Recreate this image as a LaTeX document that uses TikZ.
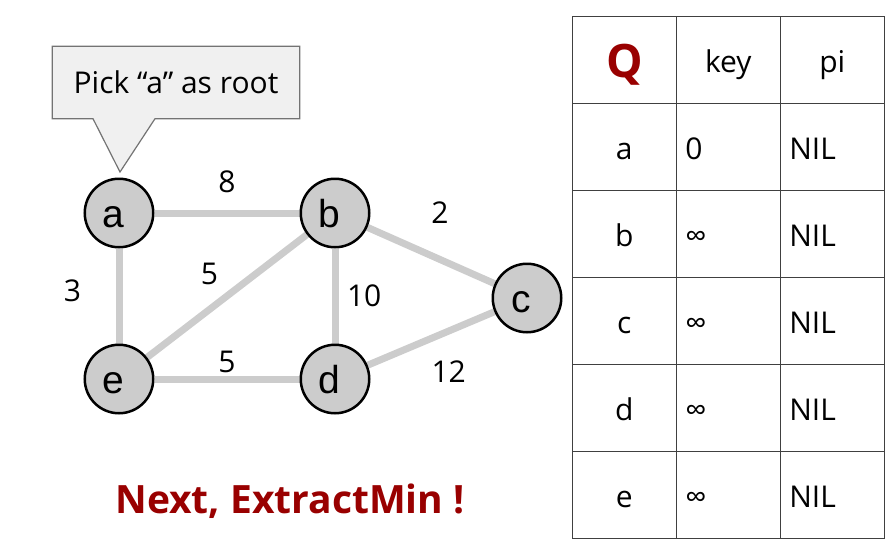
\documentclass[tikz,border=0pt]{standalone}
\usepackage{fontspec}
\setmainfont{Open Sans}
\newfontfamily\vtxfont{Liberation Sans}
\usepackage{tikz}
\usetikzlibrary{matrix,positioning,backgrounds}
\definecolor{darkred}{HTML}{990000}

\begin{document}
\begin{tikzpicture}[x=1pt,y=-1pt,
  vtx/.style={circle,draw=black,line width=2.5pt,fill=black!20,minimum size=68.5pt,inner sep=0pt,
    text height=30pt,text depth=2pt,execute at end node=\hspace{12pt},
    font=\vtxfont\fontsize{39}{39}\selectfont},
  link/.style={draw=black!20,line width=7pt},
  wt/.style={font=\fontsize{30}{30}\selectfont,inner sep=2pt},
  bubble/.style={draw=black!55,fill=black!6,line width=1.2pt}]
\useasboundingbox (0,0) rectangle (891,546);
% graph
\node[vtx] (a) at (119,213) {a};
\node[vtx] (b) at (335,213) {b};
\node[vtx] (c) at (527,298) {c};
\node[vtx] (d) at (335,379) {d};
\node[vtx] (e) at (119,379) {e};
\begin{scope}[on background layer]
\path
  (a) edge[link] node[wt,above=15pt] {8} (b)
      edge[link] node[wt,pos=.44,left=32.5pt] {3} (e)
  (b) edge[link] node[wt,pos=.57,above=30pt] {2} (c)
      edge[link] node[wt,right=6.5pt] {10} (d)
  (e) edge[link] node[wt,pos=.39,above=19pt] {5} (b)
      edge[link] node[wt,above=0.5pt] {5} (d)
  (d) edge[link] node[wt,pos=.64,below=24pt] {12} (c);
\end{scope}
% callout
\node[font=\fontsize{30}{30}\selectfont,minimum width=247pt,minimum height=72pt,inner sep=0pt] (pick) at (176,82.5) {Pick “a” as root};
\coordinate (tip) at ([xshift=1pt,yshift=5.5pt]a.north);
\begin{scope}[on background layer]
\draw[bubble] (pick.north west) -- (pick.north east) -- (pick.south east)
  -- ([xshift=-21pt]pick.south) -- (tip) -- ([xshift=-83pt]pick.south)
  -- (pick.south west) -- cycle;
\end{scope}
% queue table
\matrix (q) [matrix of nodes,anchor=north west,at={(571.5,16)},inner sep=0pt,
  row sep=-1.2pt,column sep=-1.2pt,
  nodes={draw=black!75,line width=1.2pt,text width=86pt,inner xsep=9pt,inner ysep=0pt,
    minimum height=87pt,text height=28pt,text depth=4pt,align=left,
    font=\fontsize{30}{34}\selectfont},
  column 1/.style={nodes={align=center}},
  row 1/.style={nodes={align=center}}]
{
  |[font=\fontsize{46}{46}\selectfont\bfseries,text=darkred]| \raisebox{-5pt}{Q} & key & pi \\
  a & 0 & NIL \\
  b & ∞ & NIL \\
  c & ∞ & NIL \\
  d & ∞ & NIL \\
  e & ∞ & NIL \\
};
\node[font=\fontsize{39}{39}\selectfont\bfseries,text=darkred,anchor=base] (next) at (290,513) {Next, ExtractMin !};
\end{tikzpicture}
\end{document}
